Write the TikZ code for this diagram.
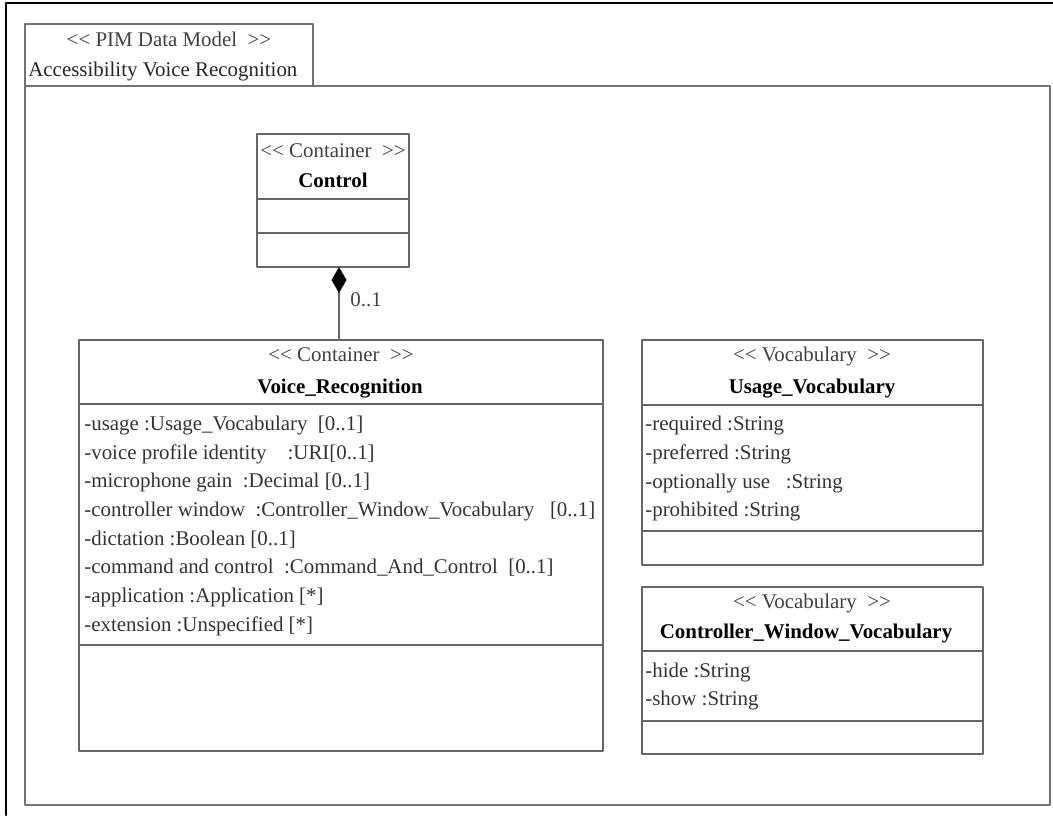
\documentclass[tikz,border=0pt]{standalone}
\usepackage{fontspec}
\setmainfont{Liberation Serif}
\usetikzlibrary{arrows.meta}
\newcommand\ltlt{<\kern0pt<}
\newcommand\gtgt{>\kern0pt>}
\newcommand\umlfont{\fontsize{11.9}{14}\selectfont}

\begin{document}
\begin{tikzpicture}[line cap=round,line join=round,x=0.02cm,y=-0.02cm,
	font=\umlfont,
	frame/.style={draw=black!55,line width=1.1pt},
	clsbox/.style={draw=black!60,line width=1.1pt,inner sep=0pt,outer sep=0pt},
	sep/.style={draw=black!60,line width=1.1pt},
	stereo/.style={anchor=base,inner sep=0pt,text=black!75},
	cname/.style={anchor=base,inner sep=0pt,font=\umlfont\bfseries},
	attr/.style={anchor=base west,inner sep=0pt,text=black!80},
	comp/.style={draw=black!60,line width=1.1pt,-{Diamond[length=0.52cm,width=0.3cm,color=black,fill=black]}}]
		\useasboundingbox (0,0) rectangle (1053,815);
		\draw [line width=1.3pt] (6,815) -- (6,3) -- (1053,3);
		\draw [frame] (25,86) -- (25,24) -- (313,24) -- (313,86);
		\draw [frame] (25,86) rectangle (1050,805);
		\node (pkgster) [stereo] at (169,46) {\ltlt~PIM Data Model~~\gtgt};
		\node (pkgname) [attr,text=black!85] at (28,76) {Accessibility Voice Recognition};
		\node (ctrl) [clsbox,minimum width=3.04cm,minimum height=2.66cm] at (333,200.5) {};
		\node (vr) [clsbox,minimum width=10.48cm,minimum height=8.22cm] at (341,545.5) {};
		\node (usage) [clsbox,minimum width=6.82cm,minimum height=4.5cm] at (812.5,452.5) {};
		\node (cwv) [clsbox,minimum width=6.82cm,minimum height=3.34cm] at (812.5,670.5) {};
		\draw [sep] (ctrl.west |- 0,199) -- (ctrl.east |- 0,199);
		\draw [sep] (ctrl.west |- 0,233) -- (ctrl.east |- 0,233);
		\draw [sep] (vr.west |- 0,404) -- (vr.east |- 0,404);
		\draw [sep] (vr.west |- 0,645) -- (vr.east |- 0,645);
		\draw [sep] (usage.west |- 0,405) -- (usage.east |- 0,405);
		\draw [sep] (usage.west |- 0,531) -- (usage.east |- 0,531);
		\draw [sep] (cwv.west |- 0,651) -- (cwv.east |- 0,651);
		\draw [sep] (cwv.west |- 0,721) -- (cwv.east |- 0,721);
		\draw [comp] (vr.north -| 339,0) -- (ctrl.south -| 339,0);
		\node (mult) [attr,text=black!75] at (350,306) {0..1};
		\node (ctrlster) [stereo] at (333,157) {\ltlt~Container~~\gtgt};
		\node (ctrlname) [cname] at (333,187) {Control};
		\node (vrster) [stereo] at (341,361) {\ltlt~Container~~\gtgt};
		\node (vrname) [cname] at (340,393) {Voice\_Recognition};
		\node (vra) [attr] at (84,430) {-usage :Usage\_Vocabulary~~[0..1]};
		\node (vrb) [attr] at (84,459) {-voice profile identity~~~~:URI[0..1]};
		\node (vrc) [attr] at (84,487) {-microphone gain~~:Decimal [0..1]};
		\node (vrd) [attr] at (84,516) {-controller window~~:Controller\_Window\_Vocabulary~~~[0..1]};
		\node (vre) [attr] at (84,545) {-dictation :Boolean [0..1]};
		\node (vrf) [attr] at (84,573) {-command and control~~:Command\_And\_Control~~[0..1]};
		\node (vrg) [attr] at (84,602) {-application :Application [*]};
		\node (vrh) [attr] at (84,631) {-extension :Unspecified [*]};
		\node (usster) [stereo] at (812,361) {\ltlt~Vocabulary~~\gtgt};
		\node (usname) [cname] at (812,393) {Usage\_Vocabulary};
		\node (usa) [attr] at (645,430) {-required :String};
		\node (usb) [attr] at (645,459) {-preferred :String};
		\node (usc) [attr] at (645,488) {-optionally use~~~:String};
		\node (usd) [attr] at (645,516) {-prohibited :String};
		\node (cwster) [stereo] at (812,608) {\ltlt~Vocabulary~~\gtgt};
		\node (cwname) [cname] at (806,638) {Controller\_Window\_Vocabulary};
		\node (cwa) [attr] at (645,677) {-hide :String};
		\node (cwb) [attr] at (645,705) {-show :String};
	\end{tikzpicture}
\end{document}
